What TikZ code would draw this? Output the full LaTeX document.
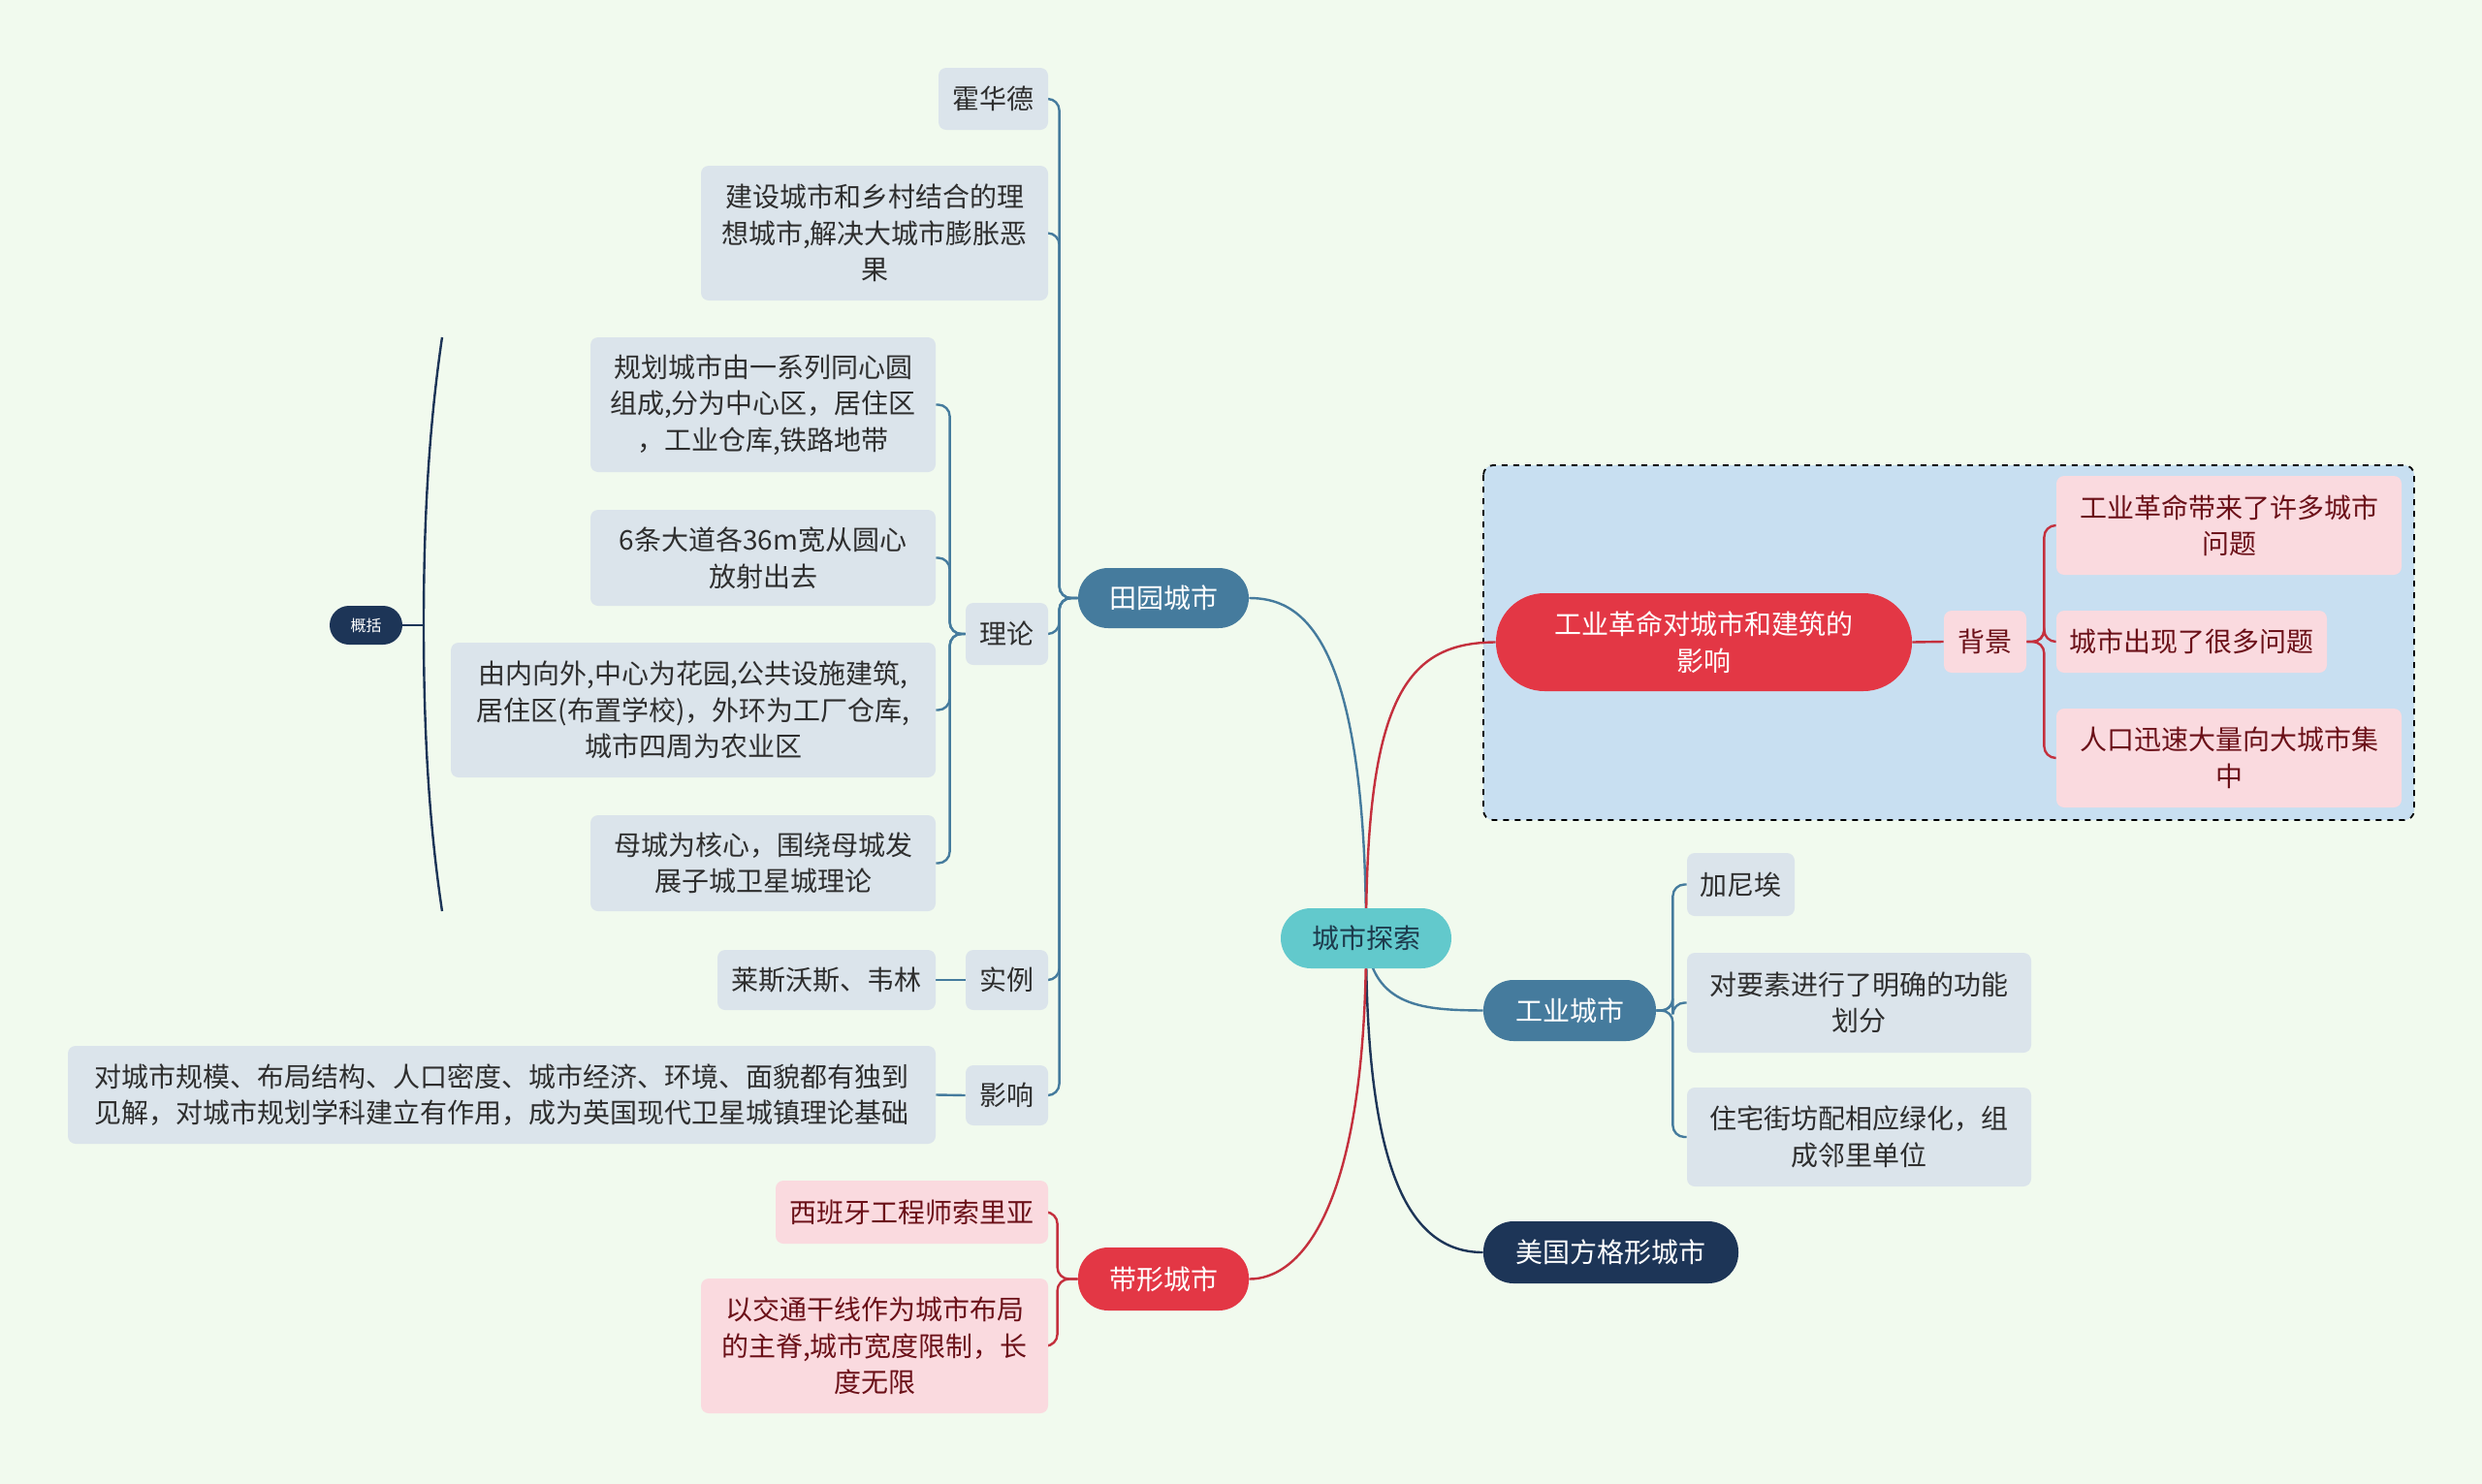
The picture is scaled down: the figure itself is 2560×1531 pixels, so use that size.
\documentclass[tikz,border=0pt]{standalone}
\usepackage{fontspec}
\setmainfont{Noto Sans CJK SC}
\usetikzlibrary{backgrounds}
\definecolor{bgc}{HTML}{F1FAEE}
\definecolor{leaffill}{HTML}{DBE4EB}
\definecolor{leaftext}{HTML}{2E2E2E}
\definecolor{pinkfill}{HTML}{FADADF}
\definecolor{pinktext}{HTML}{6B1018}
\definecolor{steel}{HTML}{457B9D}
\definecolor{rootc}{HTML}{62C9CC}
\definecolor{roottext}{HTML}{1D3A4C}
\definecolor{redc}{HTML}{E33745}
\definecolor{redline}{HTML}{C4303D}
\definecolor{navy}{HTML}{1D3557}
\definecolor{boxfill}{HTML}{C8DFF1}
\pgfdeclarelayer{bgfill}
\pgfsetlayers{bgfill,background,main}
\begin{document}
\begin{tikzpicture}[x=0.5pt,y=-0.5pt,
  base/.style={inner sep=0pt, align=center, font=\fontsize{14pt}{18.8pt}\selectfont},
  leaf/.style={base, fill=leaffill, text=leaftext, rounded corners=4pt},
  pinkleaf/.style={base, fill=pinkfill, text=pinktext, rounded corners=4pt},
  pillblue/.style={base, fill=steel, text=white, rounded corners=15.5pt},
  pillred/.style={base, fill=redc, text=white, rounded corners=15.5pt},
  pillnavy/.style={base, fill=navy, text=white, rounded corners=15.5pt},
  rootpill/.style={base, fill=rootc, text=roottext, rounded corners=15.5pt},
  bline/.style={draw=steel, line width=1.2pt},
  rline/.style={draw=redline, line width=1.2pt},
  nline/.style={draw=navy, line width=1.2pt}
]
\begin{pgfonlayer}{bgfill}
\fill[bgc] (0,0) rectangle (2560,1531);
\draw[dashed, line width=0.9pt, fill=boxfill, rounded corners=5pt] (1530,480) rectangle (2490,846);
\end{pgfonlayer}
\useasboundingbox (0,0) rectangle (2560,1531);

% root
\node[rootpill, minimum width=88pt, minimum height=31pt] (root) at (1409,968) {城市探索};

% garden city branch
\node[pillblue, minimum width=88pt, minimum height=31pt] (tian) at (1200,617) {田园城市};
\node[leaf, minimum width=56.5pt, minimum height=32pt] (huo) at (1024.5,102) {霍华德};
\node[leaf, minimum width=179pt, minimum height=69.5pt] (jianshe) at (902,240.5) {建设城市和乡村结合的理\\想城市,解决大城市膨胀恶\\果};
\node[leaf, minimum width=42.5pt, minimum height=32pt] (lilun) at (1038.5,654) {理论};
\node[leaf, minimum width=178pt, minimum height=69.5pt] (guihua) at (787,417.5) {规划城市由一系列同心圆\\组成,分为中心区，居住区\\，工业仓库,铁路地带};
\node[leaf, minimum width=178pt, minimum height=49.5pt] (liutiao) at (787,575.5) {6条大道各36m宽从圆心\\放射出去};
\node[leaf, minimum width=250pt, minimum height=69.5pt] (younei) at (715,732.5) {由内向外,中心为花园,公共设施建筑,\\居住区(布置学校)，外环为工厂仓库,\\城市四周为农业区};
\node[leaf, minimum width=178pt, minimum height=49.5pt] (mucheng) at (787,890.5) {母城为核心，围绕母城发\\展子城卫星城理论};
\node[leaf, minimum width=42.5pt, minimum height=31pt] (shili) at (1038.5,1011) {实例};
\node[leaf, minimum width=112.5pt, minimum height=31pt] (laisi) at (852.5,1011) {莱斯沃斯、韦林};
\node[leaf, minimum width=42.5pt, minimum height=31pt] (yingxiang) at (1038.5,1130) {影响};
\node[leaf, minimum width=447.5pt, minimum height=50.5pt] (duicheng) at (517.5,1129.5) {对城市规模、布局结构、人口密度、城市经济、环境、面貌都有独到\\见解，对城市规划学科建立有作用，成为英国现代卫星城镇理论基础};
\node[pillnavy, minimum width=37.5pt, minimum height=20pt, rounded corners=10pt, font=\fontsize{8pt}{9pt}\selectfont] (gaikuo) at (377.5,645) {概括};
\coordinate (sumtop) at (456,348);
\coordinate (summid) at (437,645);
\coordinate (sumbot) at (456,940);

% industrial revolution branch
\node[pillred, minimum width=214.5pt, minimum height=50.5pt, rounded corners=25pt] (gyge) at (1757.5,662.5) {工业革命对城市和建筑的\\影响};
\node[pinkleaf, minimum width=42.5pt, minimum height=32pt] (beijing) at (2047.5,662) {背景};
\node[pinkleaf, minimum width=178pt, minimum height=51pt] (p1) at (2299,542) {工业革命带来了许多城市\\问题};
\node[pinkleaf, minimum width=139.5pt, minimum height=32pt] (p2) at (2260.5,662) {城市出现了很多问题};
\node[pinkleaf, minimum width=178pt, minimum height=51pt] (p3) at (2299,782) {人口迅速大量向大城市集\\中};

% industrial city branch
\node[pillblue, minimum width=89pt, minimum height=31.5pt] (gongye) at (1619,1042.5) {工业城市};
\node[leaf, minimum width=55.5pt, minimum height=32.5pt] (jiani) at (1795.5,912.5) {加尼埃};
\node[leaf, minimum width=177.5pt, minimum height=51.5pt] (duiyao) at (1917.5,1034.5) {对要素进行了明确的功能\\划分};
\node[leaf, minimum width=177.5pt, minimum height=51pt] (zhuzhai) at (1917.5,1173) {住宅街坊配相应绿化，组\\成邻里单位};

% american grid
\node[pillnavy, minimum width=131.5pt, minimum height=32pt] (meiguo) at (1661.5,1292) {美国方格形城市};

% linear city
\node[pillred, minimum width=88pt, minimum height=32.5pt] (daixing) at (1200,1319.5) {带形城市};
\node[pinkleaf, minimum width=140.5pt, minimum height=32.5pt] (xibanya) at (940.5,1250.5) {西班牙工程师索里亚};
\node[pinkleaf, minimum width=179pt, minimum height=69.5pt] (yijiao) at (902,1388.5) {以交通干线作为城市布局\\的主脊,城市宽度限制，长\\度无限};

\begin{pgfonlayer}{background}
% main branches
\draw[bline] (root.center) .. controls (1409,650) and (1340,617) .. (tian.east);
\draw[rline] (root.center) .. controls (1409,720) and (1450,663) .. (gyge.west);
\draw[bline] (root.center) .. controls (1415,1040) and (1470,1042) .. (gongye.west);
\draw[nline] (root.center) .. controls (1409,1200) and (1450,1292) .. (meiguo.west);
\draw[rline] (root.center) .. controls (1409,1250) and (1340,1320) .. (daixing.east);
% garden city children
\foreach \c in {huo,jianshe,lilun,shili,yingxiang}
  \draw[bline, rounded corners=6pt] (tian.west) -- ++(-19,0) |- (\c.east);
\foreach \c in {guihua,liutiao,younei,mucheng}
  \draw[bline, rounded corners=6pt] (lilun.west) -- ++(-16,0) |- (\c.east);
\draw[bline] (shili.west) -- (laisi.east);
\draw[bline] (yingxiang.west) -- (duicheng.east);
% summary
\draw[nline] (sumtop) .. controls (441,450) and (437,550) .. (summid) .. controls (437,740) and (441,840) .. (sumbot);
\draw[nline] (gaikuo.east) -- (summid);
% industrial revolution
\draw[rline] (gyge.east) -- (beijing.west);
\foreach \c in {p1,p2,p3}
  \draw[rline, rounded corners=6pt] (beijing.east) -- ++(18,0) |- (\c.west);
% industrial city
\foreach \c in {jiani,duiyao,zhuzhai}
  \draw[bline, rounded corners=6pt] (gongye.east) -- ++(17,0) |- (\c.west);
% linear city
\foreach \c in {xibanya,yijiao}
  \draw[rline, rounded corners=6pt] (daixing.west) -- ++(-21,0) |- (\c.east);
\end{pgfonlayer}
\end{tikzpicture}
\end{document}
